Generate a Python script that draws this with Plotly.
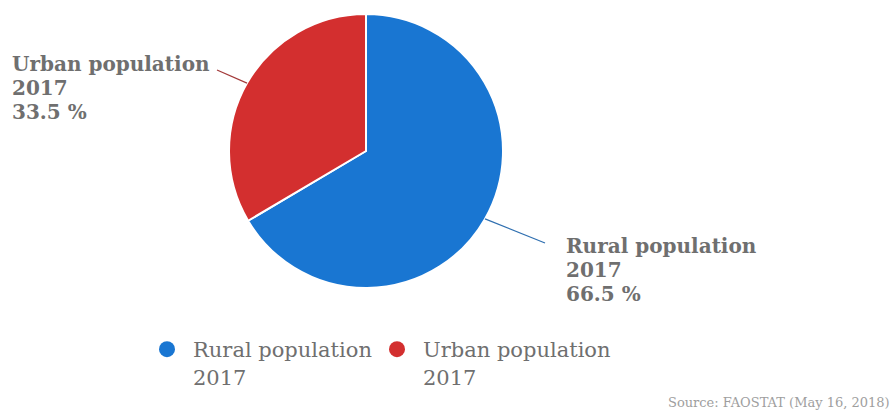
import math
import plotly.graph_objects as go

# Population share, 2017
categories = ["Rural population<br>2017", "Urban population<br>2017"]
label_names = ["Rural population", "Urban population"]
years = ["2017", "2017"]
shares = [66.5, 33.5]
colors = ["#1976d2", "#d32f2f"]
line_colors = ["#2f6fb0", "#a33a3a"]
source_text = "Source: FAOSTAT (May 16, 2018)"

W, H = 890, 412
FONT = "DejaVu Serif"
GRAY = "#6f6f6f"

# Pie geometry (pixels)
cx, cy, r = 366, 151, 137
dom_x = [(cx - r) / W, (cx + r) / W]
dom_y = [1 - (cy + r) / H, 1 - (cy - r) / H]

fig = go.Figure()
fig.add_trace(go.Pie(
    labels=categories,
    values=shares,
    marker=dict(colors=colors, line=dict(color="white", width=2)),
    sort=False,
    direction="clockwise",
    rotation=0,
    textinfo="none",
    hoverinfo="label+percent",
    showlegend=False,
    domain=dict(x=dom_x, y=dom_y),
))

# Legend entries with round markers, one legend box per entry
legend_ids = ["legend", "legend2"]
legend_left = [141, 371]
for idx in range(len(categories)):
    fig.add_trace(go.Scatter(
        x=[None], y=[None], mode="markers",
        name=categories[idx], legend=legend_ids[idx],
        marker=dict(color=colors[idx], size=19, symbol="circle"),
    ))

# Outside labels with leader lines, placed from each slice's mid angle
total = sum(shares)
start = 0.0
label_cfg = [
    # (text left x, first line centre y, line end x, line end y)
    (564, 246, 545, 243),
    (10, 64, 217, 70),
]
LINE_GAP = 24
for i, v in enumerate(shares):
    mid = (start + v / 2) / total * 2 * math.pi
    start += v
    # slices run clockwise from 12 o'clock
    ex = cx + r * math.sin(mid)
    ey = cy - r * math.cos(mid)
    tx, ty, lx, ly = label_cfg[i]
    fig.add_shape(type="line", xref="paper", yref="paper",
                  x0=ex / W, y0=1 - ey / H, x1=lx / W, y1=1 - ly / H,
                  line=dict(color=line_colors[i], width=1.2))
    for k, txt in enumerate([label_names[i], years[i], f"{v} %"]):
        fig.add_annotation(
            xref="paper", yref="paper", x=tx / W, y=1 - (ty + k * LINE_GAP) / H,
            xanchor="left", yanchor="middle", align="left", showarrow=False,
            text=f"<b>{txt}</b>",
            font=dict(family=FONT, size=20, color=GRAY),
        )

fig.add_annotation(
    xref="paper", yref="paper", x=1, y=0, xanchor="right", yanchor="bottom",
    showarrow=False, text=source_text, xshift=2,
    font=dict(family=FONT, size=13, color="#9e9e9e"),
)

legend_style = dict(
    orientation="h", xanchor="left", yanchor="top", y=1 - 329 / H,
    font=dict(family=FONT, size=21, color=GRAY),
    valign="top", itemwidth=42, itemsizing="trace",
    bgcolor="rgba(0,0,0,0)",
)

fig.update_layout(
    width=W, height=H,
    margin=dict(l=0, r=0, t=0, b=0),
    paper_bgcolor="white", plot_bgcolor="white",
    xaxis=dict(visible=False), yaxis=dict(visible=False),
    legend=dict(x=legend_left[0] / W, **legend_style),
    legend2=dict(x=legend_left[1] / W, **legend_style),
)

fig.write_html("out.html")
